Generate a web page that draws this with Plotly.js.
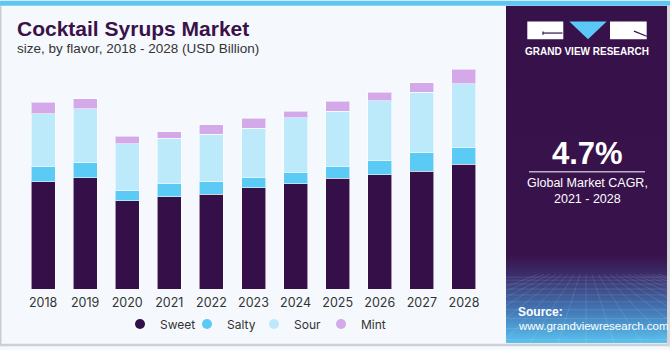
<!DOCTYPE html>
<html>
<head>
<meta charset="utf-8">
<script src="https://cdn.plot.ly/plotly-3.0.1.min.js"></script>
<style>html,body{margin:0;padding:0;background:#f5f9fd;}#chart{width:670px;height:350px;}</style>
</head>
<body>
<div id="chart"></div>
<script>
// ---- data (USD Billion) ----
const years = ['2018','2019','2020','2021','2022','2023','2024','2025','2026','2027','2028'];
const sweet = [2.17, 2.25, 1.79, 1.87, 1.92, 2.05, 2.13, 2.24, 2.31, 2.39, 2.53];
const salty = [0.32, 0.31, 0.21, 0.27, 0.25, 0.21, 0.24, 0.25, 0.30, 0.37, 0.34];
const sour  = [1.06, 1.09, 0.94, 0.91, 0.97, 1.00, 1.10, 1.11, 1.20, 1.23, 1.29];
const mint  = [0.23, 0.21, 0.16, 0.14, 0.19, 0.20, 0.13, 0.20, 0.18, 0.19, 0.29];
const seriesNames = ['Sweet', 'Salty', 'Sour', 'Mint'];
const seriesColors = ['#350f47', '#5bcbf6', '#bdeafa', '#d3a9ea'];
const seriesValues = [sweet, salty, sour, mint];

// ---- layout geometry helpers ----
const W = 670, H = 350, ML = 22, MR = 185, MT = 60, MB = 58;
const PW = W - ML - MR, PH = H - MT - MB;
const px = x => (x - ML) / PW;
const py = y => (H - MB - y) / PH;

const traces = [];
seriesValues.forEach((vals, i) => {
  traces.push({
    type: 'bar', x: years, y: vals, name: seriesNames[i],
    width: 0.57, showlegend: false, hoverinfo: 'skip',
    marker: {color: seriesColors[i], line: {color: 'rgba(255,255,255,0.55)', width: 1}}
  });
});
seriesNames.forEach((n, i) => {
  traces.push({
    type: 'scatter', mode: 'markers', x: [null], y: [null], name: n,
    marker: {symbol: 'circle', size: 10, color: seriesColors[i]}
  });
});

// ---- right panel background (gradient + perspective grid) ----
function panelSVG(w, h) {
  let lines = '';
  const hy = [280, 283, 287, 292, 298, 305, 313, 322, 332, 343];
  hy.forEach(y => { lines += `<line x1='0' y1='${y - 5}' x2='${w}' y2='${y - 5}'/>`; });
  for (let k = -8; k <= 12; k++) {
    const xb = 80 + k * 28;
    lines += `<line x1='${80 + k * 6}' y1='272' x2='${xb}' y2='${h}'/>`;
  }
  return `<svg xmlns='http://www.w3.org/2000/svg' width='${w}' height='${h}' viewBox='0 0 ${w} ${h}' preserveAspectRatio='none'>` +
    `<defs><linearGradient id='g' x1='0' y1='0' x2='0' y2='1'>` +
    `<stop offset='0' stop-color='#37114a'/><stop offset='0.74' stop-color='#38124b'/>` +
    `<stop offset='0.8' stop-color='#3b2f6c'/><stop offset='0.9' stop-color='#4276b4'/>` +
    `<stop offset='1' stop-color='#5ac2ee'/></linearGradient>` +
    `<clipPath id='c'><rect x='0' y='270' width='${w}' height='${h}'/></clipPath></defs>` +
    `<rect width='${w}' height='${h}' fill='url(#g)'/>` +
    `<g clip-path='url(#c)' stroke='#ffffff' stroke-opacity='0.16' stroke-width='0.7'>${lines}</g></svg>`;
}
const pX0 = 506, pX1 = 667, pY0 = 5, pY1 = 347;
const panelSrc = 'data:image/svg+xml;charset=utf-8,' + encodeURIComponent(panelSVG(pX1 - pX0, pY1 - pY0));

function rect(x0, y0, x1, y1, color) {
  return {type: 'rect', xref: 'paper', yref: 'paper', x0: px(x0), x1: px(x1), y0: py(y1), y1: py(y0),
          fillcolor: color, line: {width: 0}};
}
function line(x0, y0, x1, y1, color, w) {
  return {type: 'line', xref: 'paper', yref: 'paper', x0: px(x0), x1: px(x1), y0: py(y0), y1: py(y1),
          line: {color: color, width: w}};
}
const triPath = `M ${px(569.3)},${py(21)} L ${px(606.7)},${py(21)} L ${px(588)},${py(39)} Z`;

const shapes = [
  rect(0, 0, 670, 5, '#5ec6f0'),
  rect(0, 5, 1.5, 350, '#c9cdd2'),
  rect(0, 347.5, 670, 350, '#cdd0d4'),
  rect(667, 5, 670, 350, '#d4d6da'),
  // logo
  rect(527.3, 21, 563.3, 39, '#ffffff'),
  line(543, 32.7, 562.5, 32.7, '#37114a', 1.2),
  line(543, 31, 543, 34.5, '#37114a', 1.2),
  {type: 'path', xref: 'paper', yref: 'paper', path: triPath, fillcolor: '#5bc8f5', line: {width: 0}},
  rect(610, 21, 646.7, 39, '#ffffff'),
  line(634, 30.7, 646.7, 36, '#37114a', 1.2),
  // divider under CAGR
  line(529, 173.3, 645, 173.3, '#ffffff', 1)
];

function ann(text, x, y, size, opts) {
  return Object.assign({xref: 'paper', yref: 'paper', x: px(x), y: py(y), text: text, showarrow: false,
    xanchor: 'left', yanchor: 'middle', font: {family: 'Liberation Sans, Arial, sans-serif', size: size, color: '#ffffff'}}, opts || {});
}

const annotations = [
  ann('<b>Cocktail Syrups Market</b>', 15, 28, 21, {font: {family: 'Liberation Sans, Arial, sans-serif', size: 21, color: '#3a1249'}}),
  ann('size, by flavor, 2018 - 2028 (USD Billion)', 15, 48.5, 13.5, {font: {family: 'Liberation Sans, Arial, sans-serif', size: 13.5, color: '#333333'}}),
  ann('<b>GRAND VIEW RESEARCH</b>', 587, 51, 10, {xanchor: 'center'}),
  ann('<b>4.7%</b>', 587, 155, 31, {xanchor: 'center'}),
  ann('Global Market CAGR,', 587, 185, 12.5, {xanchor: 'center'}),
  ann('2021 - 2028', 587, 200.7, 12.5, {xanchor: 'center'}),
  ann('<b>Source:</b>', 516, 315, 12),
  ann('www.grandviewresearch.com', 516, 329.5, 11.5)
];

const layout = {
  width: W, height: H,
  margin: {l: ML, r: MR, t: MT, b: MB, pad: 0},
  paper_bgcolor: '#f5f9fd', plot_bgcolor: '#f5f9fd',
  barmode: 'stack',
  showlegend: true,
  legend: {orientation: 'h', x: px(120), xanchor: 'left', y: py(327.5), yanchor: 'middle',
           font: {family: 'Inter, sans-serif', size: 12, color: '#333333'}, itemwidth: 30,
           entrywidth: 22, entrywidthmode: 'pixels',
           bgcolor: 'rgba(0,0,0,0)', traceorder: 'normal'},
  xaxis: {type: 'category', range: [-0.5, 10.5], showgrid: false, zeroline: false, showline: false,
          ticks: '', ticklabelstandoff: 4,
          tickfont: {family: 'Inter, sans-serif', size: 12.5, color: '#333333'}, fixedrange: true},
  yaxis: {range: [0, 4.64], visible: false, showgrid: false, zeroline: false, fixedrange: true},
  shapes: shapes,
  annotations: annotations,
  images: [{source: panelSrc, xref: 'paper', yref: 'paper', x: px(pX0), y: py(pY0),
            sizex: px(pX1) - px(pX0), sizey: py(pY0) - py(pY1), sizing: 'stretch',
            xanchor: 'left', yanchor: 'top', layer: 'below'}]
};

Plotly.newPlot('chart', traces, layout, {displayModeBar: false, staticPlot: true});
</script>
</body>
</html>
